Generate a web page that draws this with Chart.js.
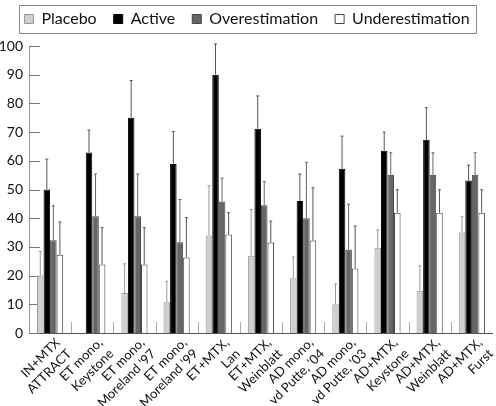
<!DOCTYPE html>
<html lang="en">
<head>
<meta charset="UTF-8">
<title>Placebo, active and estimation by study</title>
<script src="https://cdn.jsdelivr.net/npm/chart.js"></script>
<style>
    body { margin: 0; background: #fff; }
    .wrap { width: 496px; height: 406px; }
</style>
</head>
<body>
<div class="wrap"><canvas id="chart"></canvas></div>
<script>
    const studies = [
        ["IN+MTX", "ATTRACT"], ["ET mono,", "Keystone"], ["ET mono,", "Moreland '97"],
        ["ET mono,", "Moreland '99"], ["ET+MTX,", "Lan"], ["ET+MTX,", "Weinblatt"],
        ["AD mono,", "vd Putte, '04"], ["AD mono,", "vd Putte, '03"], ["AD+MTX,", "Keystone"],
        ["AD+MTX,", "Weinblatt"], ["AD+MTX,", "Furst"]
    ];

    // bar heights
    const placebo = [20, null, 13.9, 10.7, 34.0, 26.9, 19.1, 10.0, 29.7, 14.7, 35.0];
    const active = [50, 62.9, 75.0, 58.9, 90.0, 71.2, 46.0, 57.2, 63.5, 67.3, 53.1];
    const overEst = [32.3, 40.7, 40.7, 31.6, 45.8, 44.5, 40.0, 29.1, 55.1, 55.1, 55.1];
    const underEst = [27.3, 23.9, 23.9, 26.3, 34.3, 31.5, 32.2, 22.5, 41.9, 41.9, 41.9];

    // top of each error whisker
    const placeboUpper = [28.4, null, 24.1, 18.0, 51.3, 43.0, 26.5, 17.1, 35.9, 23.4, 40.5];
    const activeUpper = [60.6, 70.7, 88.0, 70.2, 100.7, 82.6, 55.4, 68.6, 70.0, 78.5, 58.5];
    const overUpper = [44.3, 55.4, 55.4, 46.5, 54.0, 52.7, 59.5, 44.9, 62.8, 62.8, 62.8];
    const underUpper = [38.7, 36.7, 36.7, 40.2, 41.9, 39.0, 50.6, 37.3, 49.9, 49.9, 49.9];

    const yTicks = [0, 10, 20, 30, 40, 50, 60, 70, 80, 90, 100];

    const FONT = "Lato, 'DejaVu Sans', sans-serif";

    const errorBars = {
        id: "errorBars",
        afterDatasetsDraw(chart) {
            const ctx = chart.ctx;
            const y = chart.scales.y;
            chart.data.datasets.forEach((ds, i) => {
                chart.getDatasetMeta(i).data.forEach((bar, j) => {
                    const top = ds.upper[j];
                    if (ds.data[j] == null || top == null) return;
                    const yt = y.getPixelForValue(top);
                    ctx.save();
                    ctx.strokeStyle = ds.errColor;
                    ctx.lineWidth = 1;
                    ctx.beginPath();
                    ctx.moveTo(bar.x, bar.y);
                    ctx.lineTo(bar.x, yt);
                    ctx.moveTo(bar.x - 1.5, yt);
                    ctx.lineTo(bar.x + 1.5, yt);
                    ctx.stroke();
                    ctx.restore();
                });
            });
        }
    };

    // ticks pointing into the plot, like the original
    const innerTicks = {
        id: "innerTicks",
        beforeDatasetsDraw(chart) {
            const ctx = chart.ctx;
            const area = chart.chartArea;
            const x = chart.scales.x, y = chart.scales.y;
            ctx.save();
            ctx.lineWidth = 1;
            ctx.strokeStyle = "#777";
            ctx.beginPath();
            yTicks.forEach(v => {
                const py = Math.round(y.getPixelForValue(v)) + 0.5;
                ctx.moveTo(area.left, py);
                ctx.lineTo(area.left + 11, py);
            });
            ctx.stroke();
            ctx.strokeStyle = "#aaa";
            ctx.beginPath();
            for (let i = 1; i < studies.length; i++) {
                const px = Math.round((x.getPixelForValue(i - 1) + x.getPixelForValue(i)) / 2) + 0.5;
                ctx.moveTo(px, area.bottom);
                ctx.lineTo(px, area.bottom - 11);
            }
            ctx.stroke();
            ctx.restore();
        }
    };

    // framed legend, with a bit more room below it
    const legendBox = {
        id: "legendBox",
        afterInit(chart) {
            const legend = chart.legend;
            const fit = legend.fit;
            legend.fit = function () {
                fit.call(this);
                this.height += 9;
            };
        },
        afterDraw(chart) {
            const boxes = chart.legend.legendHitBoxes;
            if (!boxes.length) return;
            const left = Math.min(...boxes.map(b => b.left));
            const right = Math.max(...boxes.map(b => b.left + b.width));
            const top = Math.min(...boxes.map(b => b.top));
            const bottom = Math.max(...boxes.map(b => b.top + b.height));
            const ctx = chart.ctx;
            ctx.save();
            ctx.strokeStyle = "#888";
            ctx.lineWidth = 1;
            ctx.strokeRect(Math.round(left - 5) + 0.5, Math.round(top - 6) + 0.5,
                Math.round(right - left + 12), Math.round(bottom - top + 12));
            ctx.restore();
        }
    };

    new Chart(document.getElementById("chart"), {
        type: "bar",
        data: {
            labels: studies,
            datasets: [
                { label: "Placebo", data: placebo, upper: placeboUpper, errColor: "#999",
                  backgroundColor: "#cfcfcf", borderColor: "#999", borderWidth: 1 },
                { label: "Active", data: active, upper: activeUpper, errColor: "#555",
                  backgroundColor: "#000", borderColor: "#000", borderWidth: 1 },
                { label: "Overestimation", data: overEst, upper: overUpper, errColor: "#666",
                  backgroundColor: "#666", borderColor: "#444", borderWidth: 1 },
                { label: "Underestimation", data: underEst, upper: underUpper, errColor: "#555",
                  backgroundColor: "#fff", borderColor: "#444", borderWidth: 1 }
            ]
        },
        options: {
            responsive: true,
            maintainAspectRatio: false,
            animation: false,
            layout: { padding: { left: 0, right: 2, top: -6, bottom: 0 } },
            datasets: { bar: { categoryPercentage: 0.62, barPercentage: 1.0 } },
            plugins: {
                tooltip: { enabled: false },
                legend: {
                    position: "top",
                    labels: {
                        boxWidth: 9, boxHeight: 9, padding: 17, color: "#111",
                        font: { family: FONT, size: 16 }
                    }
                }
            },
            scales: {
                x: {
                    grid: { display: false, drawTicks: false },
                    border: { color: "#555" },
                    afterFit(scale) { scale.height = 73; },
                    ticks: {
                        minRotation: 45, maxRotation: 45, autoSkip: false,
                        padding: 2, labelOffset: 8,
                        color: "#111", font: { family: FONT, size: 13 }
                    }
                },
                y: {
                    min: 0, max: 100,
                    grid: { display: false, drawTicks: false },
                    border: { color: "#999" },
                    afterFit(scale) { scale.width = 29; },
                    ticks: {
                        stepSize: 10, padding: 6, color: "#111",
                        font: { family: FONT, size: 14 }
                    }
                }
            }
        },
        plugins: [innerTicks, errorBars, legendBox]
    });
</script>
</body>
</html>
